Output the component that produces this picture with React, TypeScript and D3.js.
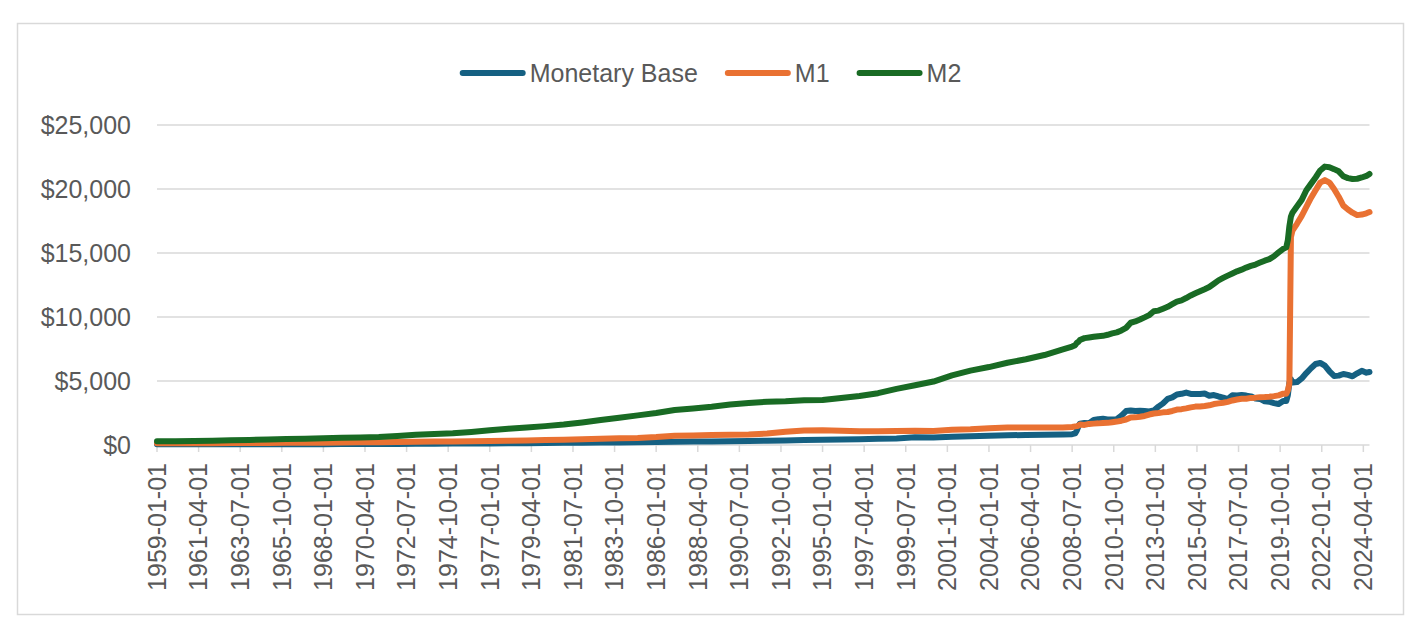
import React, { useEffect, useRef } from 'react';
import * as d3 from 'd3';

// Sample months (YYYY-MM) with series values in billions of dollars
const months = [
  '1959-01', '1960-01', '1961-01', '1962-01', '1963-01', '1964-01', '1965-01', '1966-01', '1967-01', '1968-01',
  '1969-01', '1970-01', '1971-01', '1972-01', '1973-01', '1974-01', '1975-01', '1976-01', '1977-01', '1978-01',
  '1979-01', '1980-01', '1981-01', '1982-01', '1983-01', '1984-01', '1985-01', '1986-01', '1987-01', '1988-01',
  '1989-01', '1990-01', '1991-01', '1992-01', '1993-01', '1994-01', '1995-01', '1996-01', '1997-01', '1998-01',
  '1999-01', '2000-01', '2001-01', '2002-01', '2003-01', '2004-01', '2005-01', '2006-01', '2007-01', '2008-01',
  '2008-07', '2008-09', '2008-10', '2008-11', '2008-12', '2009-03', '2009-06', '2009-09', '2009-12', '2010-03',
  '2010-06', '2010-09', '2010-12', '2011-03', '2011-06', '2011-09', '2011-12', '2012-03', '2012-06', '2012-09',
  '2012-12', '2013-03', '2013-06', '2013-09', '2013-12', '2014-03', '2014-06', '2014-09', '2014-12', '2015-03',
  '2015-06', '2015-09', '2015-12', '2016-03', '2016-06', '2016-09', '2016-12', '2017-03', '2017-06', '2017-09',
  '2017-12', '2018-03', '2018-06', '2018-09', '2018-12', '2019-03', '2019-06', '2019-09', '2019-12', '2020-02',
  '2020-03', '2020-04', '2020-05', '2020-06', '2020-09', '2020-12', '2021-03', '2021-06', '2021-09', '2021-12',
  '2022-03', '2022-06', '2022-09', '2022-12', '2023-03', '2023-06', '2023-09', '2023-12', '2024-03', '2024-06',
  '2024-08',
];

const monetaryBase = [
  50, 50, 50, 51, 53, 55, 57, 61, 63, 67,
  72, 76, 80, 86, 93, 100, 109, 117, 125, 135,
  146, 157, 167, 176, 187, 199, 214, 231, 254, 264,
  280, 293, 316, 330, 361, 390, 419, 433, 453, 480,
  515, 600, 586, 636, 682, 721, 757, 785, 810, 827,
  847, 905, 1129, 1429, 1666, 1720, 1700, 1950, 2020, 2050,
  2000, 1990, 2020, 2300, 2650, 2700, 2650, 2680, 2650, 2620,
  2700, 3000, 3250, 3600, 3720, 3950, 4000, 4100, 3990, 3990,
  3980, 4020, 3850, 3900, 3790, 3700, 3580, 3880, 3860, 3900,
  3860, 3800, 3640, 3600, 3410, 3380, 3270, 3200, 3440, 3440,
  3890, 4860, 5130, 4880, 4920, 5200, 5620, 6000, 6330, 6410,
  6200, 5760, 5400, 5420, 5550, 5480, 5370, 5600, 5800, 5650,
  5700,
];

const m1 = [
  139, 140, 141, 145, 149, 154, 160, 168, 171, 184,
  198, 206, 216, 230, 251, 265, 276, 290, 307, 331,
  356, 381, 411, 441, 481, 525, 556, 620, 726, 751,
  786, 794, 827, 900, 1030, 1132, 1151, 1116, 1082, 1074,
  1093, 1121, 1096, 1190, 1230, 1309, 1364, 1375, 1365, 1375,
  1408, 1455, 1478, 1507, 1600, 1570, 1650, 1670, 1690, 1720,
  1730, 1780, 1830, 1900, 1990, 2150, 2160, 2210, 2270, 2380,
  2460, 2500, 2550, 2580, 2660, 2770, 2800, 2860, 2940, 3000,
  3010, 3050, 3100, 3200, 3250, 3300, 3370, 3480, 3550, 3610,
  3610, 3680, 3700, 3740, 3750, 3770, 3820, 3880, 4010, 4010,
  4260, 4790, 16250, 16750, 17300, 17900, 18600, 19300, 19900, 20500,
  20700, 20500, 20000, 19400, 18700, 18400, 18150, 17960, 18000, 18100,
  18200,
];

const m2 = [
  287, 299, 314, 335, 363, 393, 426, 460, 482, 526,
  570, 589, 628, 711, 801, 857, 912, 1017, 1153, 1271,
  1368, 1474, 1600, 1766, 1958, 2136, 2315, 2505, 2737, 2855,
  2994, 3166, 3288, 3380, 3416, 3494, 3515, 3680, 3826, 4047,
  4387, 4663, 4958, 5440, 5810, 6090, 6425, 6700, 7030, 7470,
  7690, 7800, 7980, 8050, 8200, 8350, 8400, 8450, 8500, 8530,
  8610, 8720, 8800, 8950, 9150, 9550, 9650, 9800, 9970, 10150,
  10450, 10500, 10650, 10800, 11000, 11200, 11300, 11480, 11680, 11850,
  12010, 12170, 12340, 12600, 12860, 13050, 13230, 13400, 13570, 13700,
  13860, 13990, 14100, 14250, 14400, 14520, 14750, 15050, 15330, 15450,
  16000, 17100, 17850, 18150, 18650, 19150, 19900, 20400, 20900, 21450,
  21750, 21700, 21550, 21380, 21000, 20850, 20780, 20800, 20900, 21020,
  21180,
];

const tickLabels = [
  '1959-01-01', '1961-04-01', '1963-07-01', '1965-10-01', '1968-01-01', '1970-04-01',
  '1972-07-01', '1974-10-01', '1977-01-01', '1979-04-01', '1981-07-01', '1983-10-01',
  '1986-01-01', '1988-04-01', '1990-07-01', '1992-10-01', '1995-01-01', '1997-04-01',
  '1999-07-01', '2001-10-01', '2004-01-01', '2006-04-01', '2008-07-01', '2010-10-01',
  '2013-01-01', '2015-04-01', '2017-07-01', '2019-10-01', '2022-01-01', '2024-04-01',
];

const yTicks = [0, 5000, 10000, 15000, 20000, 25000];

const seriesNames = ['Monetary Base', 'M1', 'M2'];
const seriesColors = ['#156082', '#E97132', '#196B24'];

const FONT = '"Liberation Sans", Arial, sans-serif';
const TEXT = '#595959';
const GRID = '#d9d9d9';

// months since 1959-01
const monthIndex = (s: string) => {
  const [y, m] = s.split('-').map(Number);
  return (y - 1959) * 12 + (m - 1);
};

const App: React.FC = () => {
  const chartRef = useRef<SVGSVGElement | null>(null);

  useEffect(() => {
    const width = 1422;
    const height = 643;
    const lastMonth = monthIndex('2024-08');

    const svg = d3.select(chartRef.current);
    svg.selectAll('*').remove();
    svg.attr('width', width).attr('height', height);

    svg.append('rect')
      .attr('x', 17.5).attr('y', 23.5)
      .attr('width', 1386).attr('height', 591)
      .attr('fill', '#fff')
      .attr('stroke', GRID)
      .attr('stroke-width', 1.5);

    const x = d3.scaleLinear().domain([0, lastMonth]).range([157, 1369.5]);
    const y = d3.scaleLinear().domain([0, 25000]).range([445, 125]);

    // gridlines + y labels
    const grid = svg.append('g');
    grid.selectAll('line')
      .data(yTicks.filter(d => d > 0))
      .join('line')
      .attr('x1', x(0)).attr('x2', x(lastMonth))
      .attr('y1', d => y(d)).attr('y2', d => y(d))
      .attr('stroke', GRID).attr('stroke-width', 1.5);

    grid.selectAll('text')
      .data(yTicks)
      .join('text')
      .attr('x', 131)
      .attr('y', d => y(d))
      .attr('dy', '0.35em')
      .attr('text-anchor', 'end')
      .style('font-family', FONT)
      .style('font-size', '25px')
      .style('fill', TEXT)
      .text(d => '$' + d3.format(',')(d));

    // category axis
    const axis = svg.append('g');
    axis.append('line')
      .attr('x1', x(0)).attr('x2', x(lastMonth))
      .attr('y1', y(0)).attr('y2', y(0))
      .attr('stroke', GRID).attr('stroke-width', 1.5);

    const ticks = axis.selectAll('g.tick')
      .data(tickLabels)
      .join('g')
      .attr('class', 'tick')
      .attr('transform', d => `translate(${x(monthIndex(d.slice(0, 7)))},${y(0)})`);

    ticks.append('line')
      .attr('y1', 0).attr('y2', 7)
      .attr('stroke', GRID).attr('stroke-width', 1.5);

    ticks.append('text')
      .attr('transform', 'translate(0,18) rotate(-90)')
      .attr('text-anchor', 'end')
      .attr('dy', '0.35em')
      .style('font-family', FONT)
      .style('font-size', '25px')
      .style('fill', TEXT)
      .text(d => d);

    // series lines
    const line = d3.line<[number, number]>()
      .x(d => x(d[0]))
      .y(d => y(d[1]));

    [monetaryBase, m1, m2].forEach((vals, i) => {
      const pts: [number, number][] = months.map((mo, j) => [monthIndex(mo), vals[j]]);
      svg.append('path')
        .datum(pts)
        .attr('fill', 'none')
        .attr('stroke', seriesColors[i])
        .attr('stroke-width', 6)
        .attr('stroke-linejoin', 'round')
        .attr('stroke-linecap', 'round')
        .attr('d', line);
    });

    // legend, centred above the plot
    const legend = svg.append('g');
    const items = legend.selectAll('g')
      .data(seriesNames)
      .join('g');

    items.append('line')
      .attr('x1', 0).attr('x2', 60)
      .attr('y1', 0).attr('y2', 0)
      .attr('stroke', (_, i) => seriesColors[i])
      .attr('stroke-width', 6)
      .attr('stroke-linecap', 'round');

    items.append('text')
      .attr('x', 67)
      .attr('dy', '0.35em')
      .style('font-family', FONT)
      .style('font-size', '25px')
      .style('fill', TEXT)
      .text(d => d);

    let offset = 0;
    const widths: number[] = [];
    items.each(function () {
      const t = d3.select(this).select('text').node() as SVGTextElement;
      widths.push(67 + t.getComputedTextLength());
    });
    const total = d3.sum(widths) + 30 * (widths.length - 1);
    const startX = 712 - total / 2;
    items.attr('transform', (_, i) => {
      const tx = startX + offset;
      offset += widths[i] + 30;
      return `translate(${tx},73)`;
    });
  }, []);

  return (
    <div style={{ position: 'absolute', left: 0, top: 0 }}>
      <svg ref={chartRef}></svg>
    </div>
  );
};

export default App;
